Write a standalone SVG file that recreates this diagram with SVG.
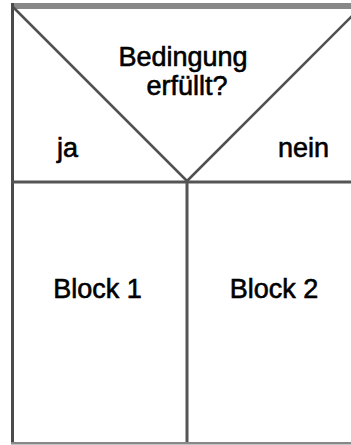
<svg xmlns="http://www.w3.org/2000/svg" width="351" height="445" viewBox="0 0 351 445">
<style>
.t{font-family:"Liberation Sans",Arial,sans-serif;font-size:27px;fill:#000;stroke:#000;stroke-width:0.6}
.ln{stroke:#555;stroke-width:3;fill:none}
.dg{stroke:#505050;stroke-width:2.5;fill:none}
</style>
<rect width="351" height="445" fill="#fff"/>
<g id="condition">
<rect x="11" y="3" width="340" height="6" fill="#888"/>
<line class="dg" x1="13" y1="7" x2="187" y2="181"/>
<line class="dg" x1="187" y1="181" x2="361" y2="7"/>
<text class="t" x="183" y="66" text-anchor="middle">Bedingung</text>
<text class="t" x="187" y="95" text-anchor="middle">erfüllt?</text>
<text class="t" x="57" y="157">ja</text>
<text class="t" x="278" y="157">nein</text>
</g>
<g id="block1">
<text class="t" x="97.5" y="298" text-anchor="middle">Block 1</text>
</g>
<g id="block2">
<text class="t" x="274" y="298" text-anchor="middle">Block 2</text>
</g>
<g id="frame">
<line x1="12.5" y1="3" x2="12.5" y2="444" stroke="#4a4a4a" stroke-width="3"/>
<line class="ln" x1="11" y1="182" x2="351" y2="182"/>
<line class="ln" x1="187" y1="182" x2="187" y2="444"/>
<rect x="11" y="442" width="340" height="2.5" fill="#888"/>
</g>
</svg>
